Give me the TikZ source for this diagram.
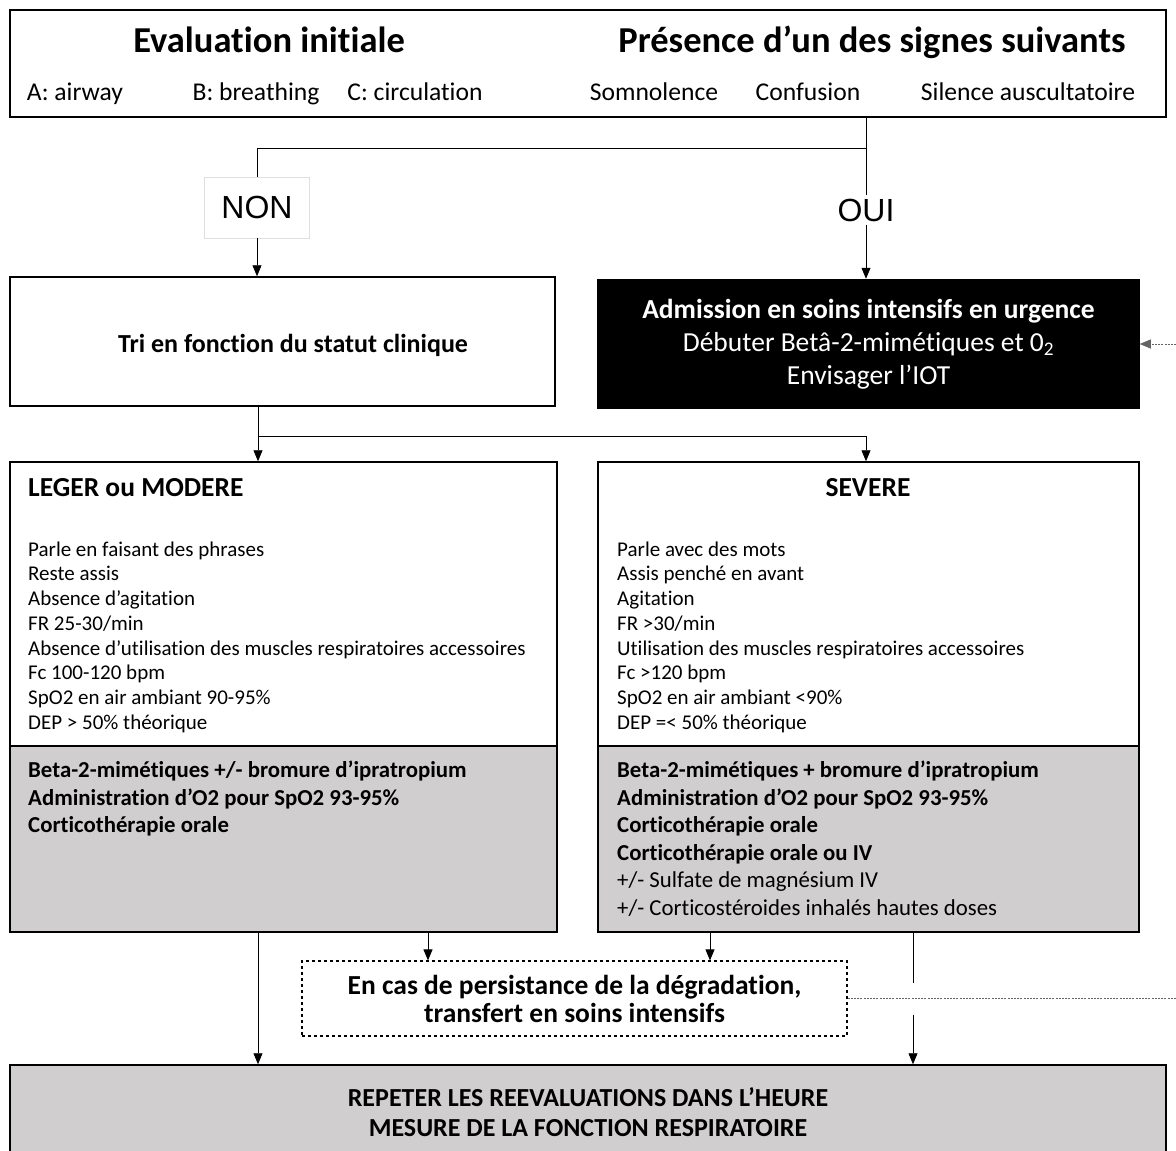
\documentclass[tikz,border=0pt]{standalone}
\usepackage{fontspec}
\setmainfont{Carlito}[Ligatures=NoCommon]
\newfontfamily\arialfont{Liberation Sans}
\usetikzlibrary{positioning, arrows.meta}

\definecolor{boxgray}{RGB}{208,206,206}
\definecolor{dotgray}{RGB}{100,100,100}

\tikzset{
  box/.style={draw, line width=1.5pt, inner sep=0pt},
  graybox/.style={box, fill=boxgray},
  arr/.style={-{Triangle[length=11pt,width=9pt]}, line width=0.8pt},
  lien/.style={line width=0.8pt},
  titre/.style={inner sep=0pt, anchor=base, font=\fontsize{36.5}{40}\selectfont\bfseries},
  signe/.style={inner sep=0pt, anchor=base, font=\fontsize{25.6}{30}\selectfont},
  chapo/.style={inner sep=0pt, font=\fontsize{27.5}{32}\selectfont\bfseries},
  liste/.style={inner sep=0pt, align=left, font=\fontsize{21}{24.7}\selectfont},
  soins/.style={inner sep=0pt, align=left, font=\fontsize{22.8}{27.5}\selectfont},
  reponse/.style={inner sep=3pt, fill=white, font=\arialfont\fontsize{32}{36}\selectfont}
}

\begin{document}
\begin{tikzpicture}[x=1pt, y=-1pt]
\useasboundingbox (0,0) rectangle (1176,1151);
% en-tete
\node[box, minimum width=1156, minimum height=107] (top) at (588,63.5) {};
\node[titre] (eval) at (269,52) {Evaluation initiale};
\node[titre] (pres) at (872,52) {Présence d’un des signes suivants};
\node[signe] (sa) at (75,100) {A: airway};
\node[signe] (sb) at (256,100) {B: breathing};
\node[signe] (sc) at (415,100) {C: circulation};
\node[signe] (s1) at (654,100) {Somnolence};
\node[signe] (s2) at (808,100) {Confusion};
\node[signe] (s3) at (1028,100) {Silence auscultatoire};

% non / oui
\node[reponse, draw=gray!25, line width=0.6pt, minimum width=105, minimum height=61] (non) at (257,207.5) {NON};
\node[reponse] (oui) at (866,210) {OUI};
\coordinate (split) at (866,148);
\draw[lien] (top.south -| split) -- (oui.north);
\draw[lien] (split) -| (non.north);

% tri + soins intensifs
\node[box, minimum width=545, minimum height=129] (tri) at (282.5,341.5) {};
\node[inner sep=0pt, font=\fontsize{26}{30}\selectfont\bfseries] (tritxt) at (293,345) {Tri en fonction du statut clinique};
\node[box, fill=black, text=white, align=center, minimum width=541, minimum height=129,
      font=\fontsize{27.5}{33}\selectfont] (icu) at (868.5,344)
      {\textbf{Admission en soins intensifs en urgence}\\Débuter Betâ-2-mimétiques et 0\textsubscript{2}\\Envisager l’IOT};
\draw[arr] (non) -- (tri.north -| non);
\draw[arr] (oui) -- (icu.north -| oui);

% leger ou modere
\node[box, minimum width=547, minimum height=284] (leger) at (283.5,604) {};
\node[graybox, minimum width=547, minimum height=186] (lgray) at (283.5,839) {};
\node[chapo, anchor=base west] (lt) at (28,496) {LEGER ou MODERE};
\node[liste, anchor=north west] (ll) at (28,541.5) {Parle en faisant des phrases\\Reste assis\\Absence d’agitation\\FR 25-30/min\\Absence d’utilisation des muscles respiratoires accessoires\\Fc 100-120 bpm\\SpO2 en air ambiant 90-95\%\\DEP > 50\% théorique};
\node[soins, anchor=north west, font=\fontsize{22.8}{27.5}\selectfont\bfseries] (lg) at (28,761) {Beta-2-mimétiques +/- bromure d’ipratropium\\Administration d’O2 pour SpO2 93-95\%\\Corticothérapie orale};

% severe
\node[box, minimum width=541, minimum height=284] (severe) at (868.5,604) {};
\node[graybox, minimum width=541, minimum height=186] (sgray) at (868.5,839) {};
\node[chapo, anchor=base] (st) at (868,496) {SEVERE};
\node[liste, anchor=north west] (sl) at (617,541.5) {Parle avec des mots\\Assis penché en avant\\Agitation\\FR >30/min\\Utilisation des muscles respiratoires accessoires\\Fc >120 bpm\\SpO2 en air ambiant <90\%\\DEP =< 50\% théorique};
\node[soins, anchor=north west] (sg) at (617,761) {\textbf{Beta-2-mimétiques + bromure d’ipratropium}\\\textbf{Administration d’O2 pour SpO2 93-95\%}\\\textbf{Corticothérapie orale}\\\textbf{Corticothérapie orale ou IV}\\+/- Sulfate de magnésium IV\\+/- Corticostéroides inhalés hautes doses};

\coordinate (split2) at (258,436);
\draw[arr] (tri.south -| split2) -- (leger.north -| split2);
\draw[arr] (split2) -| (severe.north -| oui);

% degradation
\node[box, dashed, line width=1.2pt, align=center, minimum width=545, minimum height=75,
      font=\fontsize{27.5}{28}\selectfont\bfseries] (dash) at (574.5,998.5)
      {En cas de persistance de la dégradation,\\transfert en soins intensifs};
\coordinate (p1) at ([xshift=-146.5pt]dash.north);
\coordinate (p2) at ([xshift=135.5pt]dash.north);
\draw[arr] (lgray.south -| p1) -- (p1);
\draw[arr] (sgray.south -| p2) -- (p2);

% reevaluation
\node[graybox, align=center, minimum width=1156, minimum height=94,
      font=\fontsize{26}{30}\selectfont\bfseries] (rep) at (588,1112)
      {REPETER LES REEVALUATIONS DANS L’HEURE\\MESURE DE LA FONCTION RESPIRATOIRE};
\coordinate (p3) at (913,0);
\draw[arr] (lgray.south -| split2) -- (rep.north -| split2);
\draw[lien] (sgray.south -| p3) -- ([yshift=16pt]dash.east -| p3);
\draw[arr] ([yshift=-16pt]dash.east -| p3) -- (rep.north -| p3);

% retour vers soins intensifs
\coordinate (bord) at (1195,0);
\draw[arr, dotgray, dash pattern=on 2pt off 1.2pt] (dash.east) -- (dash.east -| bord) |- (icu.east);
\end{tikzpicture}
\end{document}
